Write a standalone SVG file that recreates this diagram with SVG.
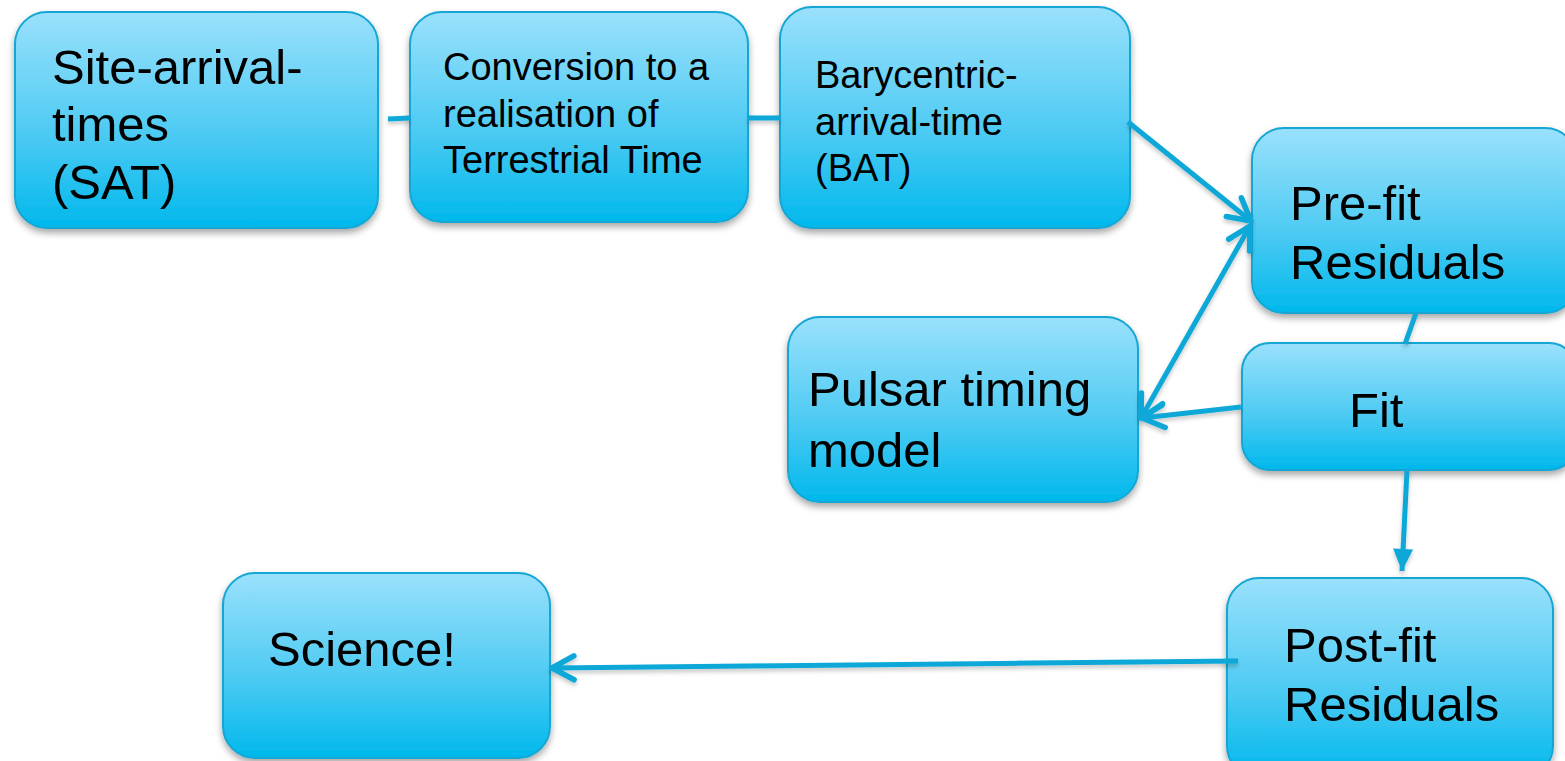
<svg xmlns="http://www.w3.org/2000/svg" width="1565" height="761" viewBox="0 0 1565 761">
<defs>
<linearGradient id="g" x1="0" y1="0" x2="0" y2="1">
<stop offset="0" stop-color="#9ae1fc"/>
<stop offset="0.55" stop-color="#4fcbf3"/>
<stop offset="1" stop-color="#00b8ec"/>
</linearGradient>
<filter id="sh" x="-10%" y="-10%" width="120%" height="130%">
<feDropShadow dx="0" dy="4" stdDeviation="3.5" flood-color="#000" flood-opacity="0.35"/>
</filter>
<filter id="lsh" filterUnits="userSpaceOnUse" x="0" y="0" width="1565" height="761">
<feDropShadow dx="0" dy="3" stdDeviation="2" flood-color="#000" flood-opacity="0.22"/>
</filter>
<marker id="open" markerUnits="userSpaceOnUse" viewBox="-30 -16 36 32" refX="0" refY="0" markerWidth="36" markerHeight="32" orient="auto-start-reverse" overflow="visible">
<path d="M -22 -12 L 0 0 L -22 12" fill="none" stroke="#0aa8d8" stroke-width="5.5" stroke-linecap="round" stroke-linejoin="round"/>
</marker>
<marker id="tri" markerUnits="userSpaceOnUse" viewBox="-26 -13 28 26" refX="0" refY="0" markerWidth="28" markerHeight="26" orient="auto" overflow="visible">
<path d="M -22 -10 L 0 0 L -22 10 Z" fill="#0aa8d8"/>
</marker>
</defs>
<style>
.box{fill:url(#g);stroke:#13a6d3;stroke-width:2;filter:url(#sh)}
.t{font-family:"Liberation Sans",Arial,sans-serif;fill:#000}
.big{font-size:49px}
.sm{font-size:38px}
.c{fill:none;stroke:#0aa8d8;stroke-width:5}
</style>
<g id="n-sat">
<rect class="box" x="15" y="12" width="363" height="216" rx="32"/>
<text class="t big" x="52" y="84">Site-arrival-</text>
<text class="t big" x="52" y="141">times</text>
<text class="t big" x="52" y="199">(SAT)</text>
</g>
<g id="n-conv">
<rect class="box" x="410" y="12" width="338" height="210" rx="32"/>
<text class="t sm" x="443" y="80">Conversion to a</text>
<text class="t sm" x="443" y="127">realisation of</text>
<text class="t sm" x="443" y="173">Terrestrial Time</text>
</g>
<g id="n-bat">
<rect class="box" x="780" y="7" width="350" height="221" rx="32"/>
<text class="t sm" x="815" y="88">Barycentric-</text>
<text class="t sm" x="815" y="135">arrival-time</text>
<text class="t sm" x="815" y="181">(BAT)</text>
</g>
<g id="n-prefit">
<rect class="box" x="1252" y="128" width="325" height="185" rx="32"/>
<text class="t big" x="1290" y="220">Pre-fit</text>
<text class="t big" x="1290" y="279">Residuals</text>
</g>
<g id="n-fit">
<rect class="box" x="1242" y="343" width="335" height="127" rx="28"/>
<text class="t big" x="1349" y="427">Fit</text>
</g>
<g id="n-model">
<rect class="box" x="788" y="317" width="350" height="185" rx="32"/>
<text class="t big" x="808" y="406">Pulsar timing</text>
<text class="t big" x="808" y="467">model</text>
</g>
<g id="n-postfit">
<rect class="box" x="1227" y="578" width="326" height="200" rx="32"/>
<text class="t big" x="1284" y="662">Post-fit</text>
<text class="t big" x="1284" y="721">Residuals</text>
</g>
<g id="n-science">
<rect class="box" x="223" y="573" width="327" height="185" rx="32"/>
<text class="t big" x="268" y="666">Science!</text>
</g>
<g id="connectors" filter="url(#lsh)">
<line class="c" x1="388" y1="119" x2="410" y2="118"/>
<line class="c" x1="748" y1="118" x2="780" y2="118"/>
<line class="c" x1="1128" y1="122" x2="1251" y2="221" marker-end="url(#open)"/>
<line class="c" x1="1141" y1="418" x2="1250" y2="226" marker-start="url(#open)" marker-end="url(#open)"/>
<line class="c" x1="1241" y1="407" x2="1142" y2="418" marker-end="url(#open)"/>
<line class="c" x1="1416" y1="313" x2="1405" y2="344"/>
<line class="c" x1="1407" y1="470" x2="1402" y2="571" marker-end="url(#tri)"/>
<line class="c" x1="1238" y1="661" x2="552" y2="668" marker-end="url(#open)"/>
</g>
</svg>
